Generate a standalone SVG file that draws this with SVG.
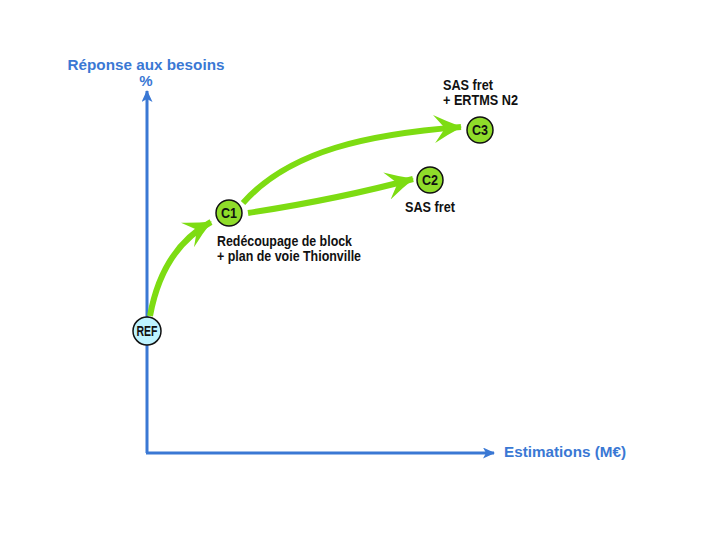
<svg xmlns="http://www.w3.org/2000/svg" width="711" height="553" viewBox="0 0 711 553">
<style>
.axis{stroke:#3a78d4;stroke-width:3;fill:none}
.alabel{font-family:"Liberation Sans",Arial,sans-serif;font-weight:bold;font-size:15px;fill:#3a78d4}
.flow{stroke:#7ddc12;stroke-width:6;fill:none;stroke-linecap:butt}
.node circle{stroke:#111;stroke-width:1.5}
.ntext{font-family:"Liberation Sans",Arial,sans-serif;font-weight:bold;font-size:14px;fill:#111;text-anchor:middle}
.lbl{font-family:"Liberation Sans",Arial,sans-serif;font-weight:bold;font-size:14.5px;fill:#111}
</style>
<defs>
<marker id="ax" markerWidth="12" markerHeight="11" refX="11" refY="5.5" orient="auto" markerUnits="userSpaceOnUse" viewBox="0 0 12 11">
<path d="M0,0 L12,5.5 L0,11 L3,5.5 z" fill="#3a78d4"/>
</marker>
<marker id="gr" markerWidth="28" markerHeight="28" refX="27" refY="14" orient="auto" markerUnits="userSpaceOnUse" viewBox="0 0 28 28">
<path d="M0,0 Q14,8 28,14 Q14,20 0,28 L11,14 z" fill="#7ddc12"/>
</marker>
</defs>
<rect width="711" height="553" fill="#fff"/>
<g id="axes">
<path class="axis" d="M147,453 L147,91" marker-end="url(#ax)"/>
<path class="axis" d="M146,453 L494,453" marker-end="url(#ax)"/>
<text class="alabel" x="146" y="70" text-anchor="middle" textLength="157" lengthAdjust="spacingAndGlyphs">Réponse aux besoins</text>
<text class="alabel" x="146" y="86" text-anchor="middle">%</text>
<text class="alabel" x="504" y="457" textLength="122" lengthAdjust="spacingAndGlyphs">Estimations (M€)</text>
</g>
<g id="connectors">
<path class="flow" d="M150,316 C158,272 178,240 211,222" marker-end="url(#gr)"/>
<path class="flow" d="M243,203 C290,150 370,134 461,127" marker-end="url(#gr)"/>
<path class="flow" d="M248,213 C300,205 350,196 413,179" marker-end="url(#gr)"/>
</g>
<g id="REF" class="node">
<circle cx="147" cy="331" r="14" fill="#bdf3ff"/>
<text class="ntext" x="147" y="336" textLength="21" lengthAdjust="spacingAndGlyphs">REF</text>
</g>
<g id="C1" class="node">
<circle cx="229" cy="213" r="13" fill="#8fdc2a"/>
<text class="ntext" x="229" y="218" textLength="16" lengthAdjust="spacingAndGlyphs">C1</text>
<text class="lbl" x="217" y="246" textLength="135" lengthAdjust="spacingAndGlyphs">Redécoupage de block</text>
<text class="lbl" x="217" y="261" textLength="144" lengthAdjust="spacingAndGlyphs">+ plan de voie Thionville</text>
</g>
<g id="C2" class="node">
<circle cx="430" cy="180" r="13" fill="#8fdc2a"/>
<text class="ntext" x="430" y="185" textLength="16" lengthAdjust="spacingAndGlyphs">C2</text>
<text class="lbl" x="405" y="212" textLength="50" lengthAdjust="spacingAndGlyphs">SAS fret</text>
</g>
<g id="C3" class="node">
<circle cx="480" cy="130" r="13" fill="#8fdc2a"/>
<text class="ntext" x="480" y="135" textLength="16" lengthAdjust="spacingAndGlyphs">C3</text>
<text class="lbl" x="443" y="90" textLength="50" lengthAdjust="spacingAndGlyphs">SAS fret</text>
<text class="lbl" x="443" y="105" textLength="75" lengthAdjust="spacingAndGlyphs">+ ERTMS N2</text>
</g>
</svg>
